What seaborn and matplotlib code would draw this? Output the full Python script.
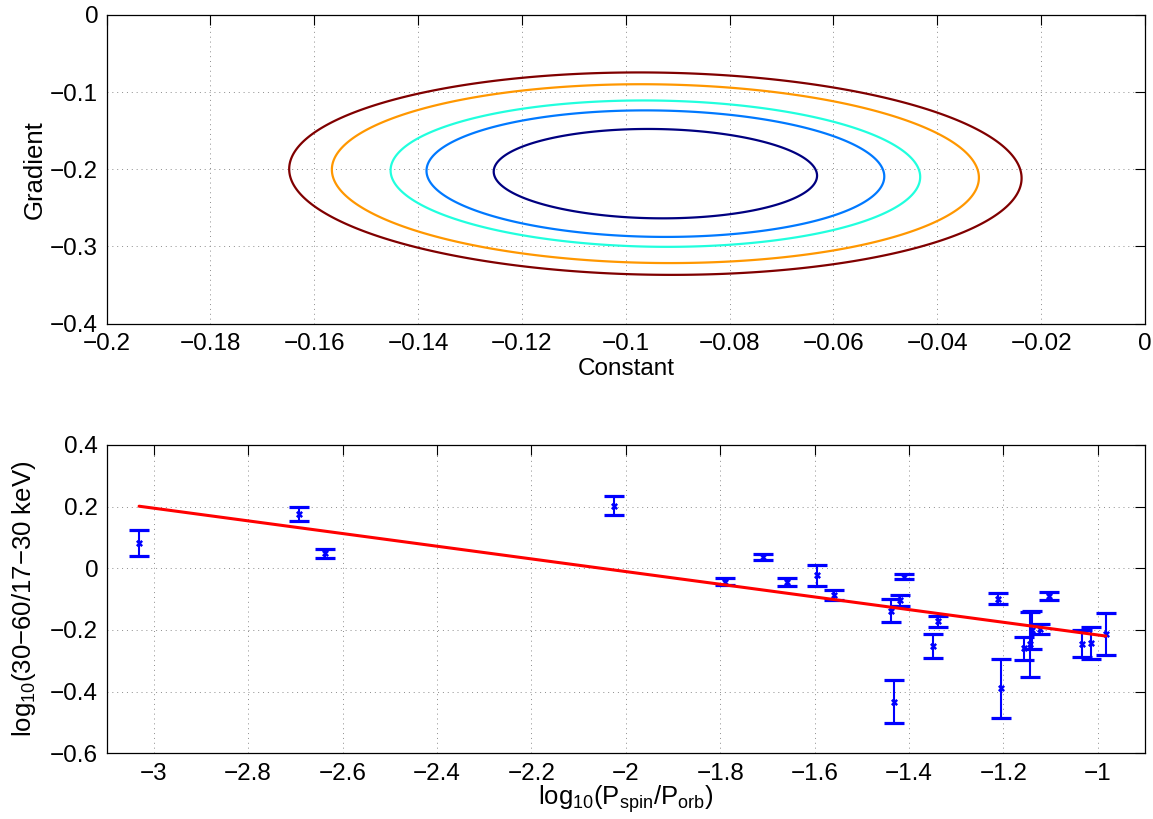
import numpy as np
import pandas as pd
import matplotlib
matplotlib.use("Agg")
import matplotlib.pyplot as plt
import seaborn as sns

# Best-fit parameters and their confidence region
fit_constant = -0.0943
fit_gradient = -0.2056
sigma_constant = 0.02053
sigma_gradient = 0.03818
param_corr = -0.045
fit_pivot = -1.593
delta_chi2_levels = [2.30, 4.61, 6.17, 9.21, 11.8]

# Hardness ratio versus spin/orbit period ratio
log_period_ratio = [-3.031, -2.692, -2.637, -2.025, -1.789, -1.710, -1.658, -1.595,
                    -1.559, -1.438, -1.432, -1.419, -1.410, -1.350, -1.338, -1.211,
                    -1.206, -1.156, -1.144, -1.139, -1.122, -1.103, -1.033, -1.015,
                    -0.983]
log_hardness = [0.081, 0.176, 0.049, 0.203, -0.043, 0.037, -0.043, -0.023,
                -0.086, -0.137, -0.432, -0.103, -0.027, -0.252, -0.172, -0.098,
                -0.389, -0.259, -0.246, -0.200, -0.197, -0.090, -0.244, -0.241,
                -0.214]
log_hardness_err = [0.042, 0.022, 0.0145, 0.030, 0.010, 0.009, 0.013, 0.033,
                    0.016, 0.038, 0.071, 0.018, 0.009, 0.040, 0.018, 0.017,
                    0.096, 0.0375, 0.105, 0.062, 0.016, 0.013, 0.044, 0.052,
                    0.0685]

top_xticks = [-0.2, -0.18, -0.16, -0.14, -0.12, -0.1, -0.08, -0.06, -0.04, -0.02, 0]
top_yticks = [-0.4, -0.3, -0.2, -0.1, 0]
bot_xticks = [-3, -2.8, -2.6, -2.4, -2.2, -2, -1.8, -1.6, -1.4, -1.2, -1]
bot_yticks = [-0.6, -0.4, -0.2, 0, 0.2, 0.4]

sns.set_style("white")
plt.rcParams["font.family"] = ["Liberation Sans", "DejaVu Sans"]
plt.rcParams["mathtext.fontset"] = "custom"
plt.rcParams["mathtext.rm"] = "Liberation Sans"
plt.rcParams["mathtext.it"] = "Liberation Sans"
plt.rcParams["axes.unicode_minus"] = True
for key in ["text.color", "axes.labelcolor", "xtick.color", "ytick.color",
            "axes.edgecolor"]:
    plt.rcParams[key] = "black"

FS = 17.5
LFS = 18.5


def fmt(v):
    s = "%g" % v
    return s.replace("-", "\u2212")


def jet_classic(t):
    """Piecewise-linear jet colour map (64-step style) evaluated at t in [0, 1]."""
    r = np.clip(np.minimum(4 * t - 1.5, -4 * t + 4.5), 0, 1)
    g = np.clip(np.minimum(4 * t - 0.5, -4 * t + 3.5), 0, 1)
    b = np.clip(np.minimum(4 * t + 0.5, -4 * t + 2.5), 0, 1)
    return (float(r), float(g), float(b))


def style_axes(ax, xticks, yticks):
    ax.set_xticks(xticks)
    ax.set_yticks(yticks)
    ax.set_xticklabels([fmt(v) for v in xticks])
    ax.set_yticklabels([fmt(v) for v in yticks])
    ax.tick_params(direction="in", length=7.5, width=0.8, top=True, right=True,
                   labelsize=FS, colors="black", labelcolor="black", pad=6)
    ax.tick_params(axis="x", pad=7)
    ax.grid(True, color="#8c8c8c", linestyle=(0, (1, 4)), linewidth=0.7)
    for sp in ax.spines.values():
        sp.set_color("black")
        sp.set_linewidth(0.9)


fig = plt.figure(figsize=(11.53, 8.19), dpi=100)
ax1 = fig.add_axes([0.0924, 0.6048, 0.9007, 0.3769])
ax2 = fig.add_axes([0.0924, 0.0802, 0.9007, 0.3765])

# Confidence contours of the constant/gradient fit
c_grid = np.linspace(-0.2, 0.0, 500)
g_grid = np.linspace(-0.4, 0.0, 500)
C, G = np.meshgrid(c_grid, g_grid)
u = (C - fit_constant) / sigma_constant
v = (G - fit_gradient) / sigma_gradient
chi2 = (u ** 2 - 2 * param_corr * u * v + v ** 2) / (1 - param_corr ** 2)
lv = np.array(delta_chi2_levels)
level_colors = [jet_classic(t) for t in (lv - lv.min()) / (lv.max() - lv.min())]
ax1.contour(C, G, chi2, levels=delta_chi2_levels, colors=level_colors, linewidths=1.6)
ax1.set_xlim(-0.2, 0)
ax1.set_ylim(-0.4, 0)
style_axes(ax1, top_xticks, top_yticks)
ax1.set_xlabel("Constant", fontsize=FS, labelpad=2)
ax1.set_ylabel("Gradient", fontsize=LFS)
ax1.yaxis.set_label_coords(-0.058, 0.5)

# Data with error bars and the best-fit line
df = pd.DataFrame({"x": log_period_ratio, "y": log_hardness, "err": log_hardness_err})
x_line = np.array([df["x"].min(), df["x"].max()])
line_df = pd.DataFrame({"x": x_line,
                        "y": fit_constant + fit_gradient * (x_line - fit_pivot)})
ax2.errorbar(df["x"], df["y"], yerr=df["err"], fmt="none", ecolor="#0000ff",
             elinewidth=1.5, capsize=7, capthick=2.3, zorder=3)
sns.scatterplot(data=df, x="x", y="y", ax=ax2, color="#0000ff", marker="X",
                s=26, linewidth=0, zorder=4)
sns.lineplot(data=line_df, x="x", y="y", ax=ax2, color="#ff0000", linewidth=2.2,
             zorder=5)
ax2.set_xlim(-3.1, -0.9)
ax2.set_ylim(-0.6, 0.4)
style_axes(ax2, bot_xticks, bot_yticks)
ax2.set_xlabel(r"log$_{\mathregular{10}}$(P$_{\mathregular{spin}}$/P$_{\mathregular{orb}}$)",
               fontsize=LFS, va="top")
ax2.set_ylabel("log$_{\\mathregular{10}}$(30\u221260/17\u221230 keV)", fontsize=LFS)
ax2.xaxis.set_label_coords(0.5, -0.098)
ax2.yaxis.set_label_coords(-0.066, 0.5)

fig.savefig("out.png", dpi=100)
